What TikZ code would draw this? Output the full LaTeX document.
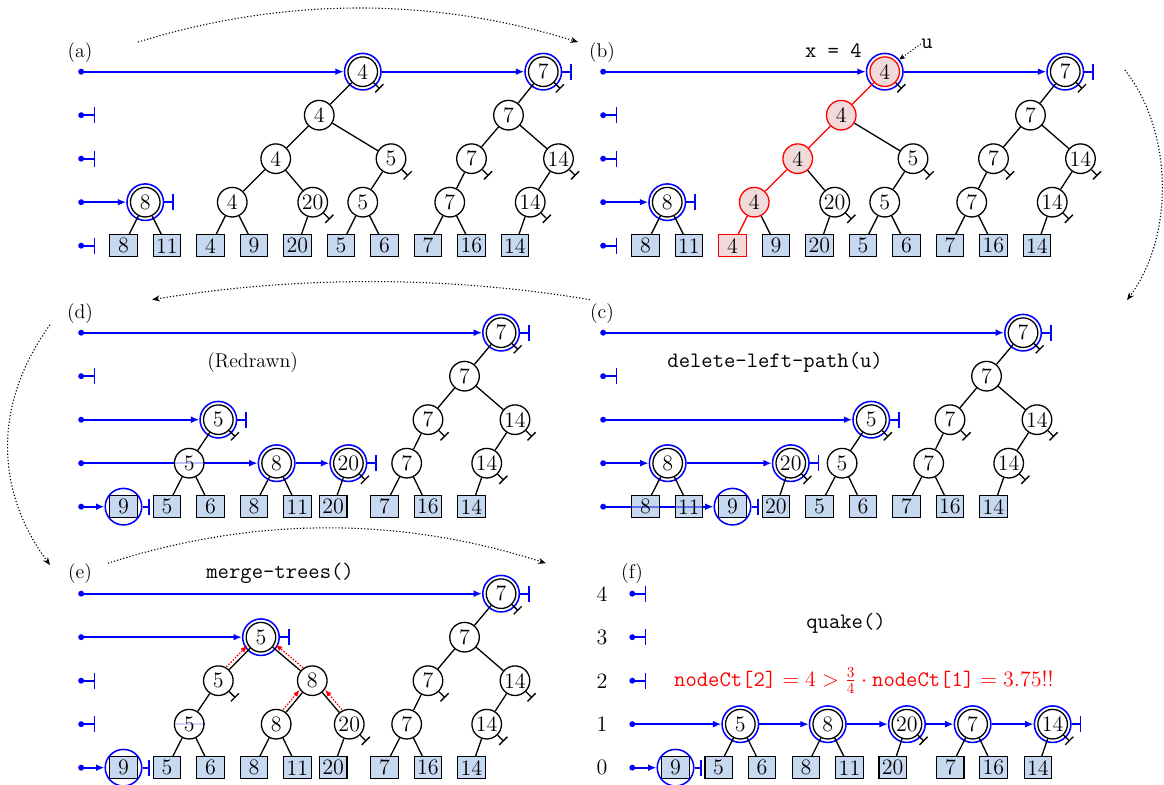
\documentclass[tikz,border=0pt]{standalone}
\usetikzlibrary{arrows.meta}
\definecolor{boxblue}{RGB}{160,192,232}
\definecolor{pinkred}{RGB}{242,218,218}
\pgfdeclarelayer{bg}
\pgfsetlayers{bg,main}
\tikzset{
 tn/.style={circle,draw,line width=0.85pt,fill=white,fill opacity=0.75,text opacity=1,minimum size=0.68cm,inner sep=0pt,font=\fontsize{14.4}{17}\selectfont},
 tnred/.style={tn,draw=red,fill=pinkred,fill opacity=1},
 lf/.style={rectangle,draw,line width=0.85pt,fill=boxblue,fill opacity=0.6,text opacity=1,minimum width=0.63cm,minimum height=0.5cm,inner sep=0pt,font=\fontsize{14.4}{17}\selectfont},
 lfred/.style={lf,draw=red,fill=pinkred,fill opacity=1},
 rg/.style={circle,draw=blue,line width=1pt,minimum size=0.84cm,inner sep=0pt},
 ed/.style={line width=0.85pt},
 edred/.style={line width=0.85pt,red},
 tee/.style={line width=0.85pt,-{Bar[width=7.5pt]}},
 lst/.style={blue,line width=1.1pt,-{Latex[length=5.5pt,width=4.5pt]}},
 lstdot/.style={blue,line width=1.1pt,{Circle[length=3.8pt]}-{Latex[length=5.5pt,width=4.5pt]}},
 nil/.style={blue,line width=1.1pt,{Circle[length=3.8pt]}-{Bar[width=10.5pt]}},
 endb/.style={blue,line width=1.1pt,-{Bar[width=10.5pt]}},
 plabel/.style={font=\fontsize{13}{15}\selectfont,inner sep=0pt},
 numlabel/.style={font=\fontsize{14.4}{17}\selectfont,inner sep=0pt},
 ttlabel/.style={font=\fontsize{14.4}{17}\selectfont\ttfamily,inner sep=0pt},
 arc/.style={line width=0.7pt,dash pattern=on 0.8pt off 1.3pt,-{Stealth[length=5pt,width=4pt]}},
 redup/.style={red,line width=0.8pt,dash pattern=on 1pt off 1pt,-{Latex[length=4.5pt,width=3.5pt]}},
}
\newcommand\treeAB[4]{%
 \foreach \vv/\xx in {8/1,11/2,9/4,20/5,5/6,6/7,7/8,16/9,14/10}{\node[lf] (#1l\vv) at (\xx,0) {\vv};}
 \node[#4] (#1l4) at (3,0) {4};
 \node[tn] (#1n8) at (1.5,1) {8};
 \node[#2] (#1a4) at (3.5,1) {4};
 \node[tn] (#1n20) at (5.35,1) {20};
 \node[tn] (#1a5) at (6.5,1) {5};
 \node[tn] (#1a7) at (8.5,1) {7};
 \node[tn] (#1a14) at (10.35,1) {14};
 \node[#2] (#1b4) at (4.5,2) {4};
 \node[tn] (#1b5) at (7.15,2) {5};
 \node[tn] (#1b7) at (9,2) {7};
 \node[tn] (#1b14) at (11,2) {14};
 \node[#2] (#1c4) at (5.5,3) {4};
 \node[tn] (#1c7) at (9.85,3) {7};
 \node[#2] (#1d4) at (6.5,4) {4};
 \node[tn] (#1d7) at (10.65,4) {7};
 \node[rg] (#1n8r) at (#1n8) {};
 \node[rg] (#1d4r) at (#1d4) {};
 \node[rg] (#1d7r) at (#1d7) {};
 \draw[ed] (#1n8) -- (#1l8) (#1n8) -- (#1l11) (#1a4) -- (#1l9) (#1n20) -- (#1l20)
   (#1a5) -- (#1l5) (#1a5) -- (#1l6) (#1a7) -- (#1l7) (#1a7) -- (#1l16) (#1a14) -- (#1l14)
   (#1b4) -- (#1n20) (#1b5) -- (#1a5) (#1b7) -- (#1a7) (#1b14) -- (#1a14)
   (#1c4) -- (#1b5) (#1c7) -- (#1b7) (#1c7) -- (#1b14) (#1d7) -- (#1c7);
 \draw[#3] (#1a4) -- (#1l4) (#1b4) -- (#1a4) (#1c4) -- (#1b4) (#1d4) -- (#1c4);
 \foreach \nn in {n20,a14,b5,b7,b14,d4,d7}{\draw[tee] (#1\nn.-45) -- ++(-45:0.2);}
 \foreach \rr in {0,2,3}{\coordinate (#1s\rr) at (-0.04,\rr); \coordinate (#1e\rr) at (0.35,\rr); \draw[nil] (#1s\rr) -- (#1e\rr);}
 \coordinate (#1s1) at (-0.04,1); \coordinate (#1s4) at (-0.04,4);
 \draw[lstdot] (#1s1) -- (#1n8r);
 \draw[endb] (#1n8r.east) -- ++(0.22,0);
 \draw[lstdot] (#1s4) -- (#1d4r);
 \draw[lst] (#1d4r) -- (#1d7r);
 \draw[endb] (#1d7r.east) -- ++(0.22,0);
}
\newcommand\rtree[1]{%
 \node[lf] (#1l7) at (7,0) {7};
 \node[lf] (#1l16) at (8,0) {16};
 \node[lf] (#1l14) at (9,0) {14};
 \node[tn] (#1a7) at (7.51,1) {7};
 \node[tn] (#1a14) at (9.35,1) {14};
 \node[tn] (#1b7) at (8,2) {7};
 \node[tn] (#1b14) at (10,2) {14};
 \node[tn] (#1c7) at (8.84,3) {7};
 \node[tn] (#1d7) at (9.68,4) {7};
 \node[rg] (#1d7r) at (#1d7) {};
 \draw[ed] (#1a7) -- (#1l7) (#1a7) -- (#1l16) (#1a14) -- (#1l14) (#1b7) -- (#1a7) (#1b14) -- (#1a14)
   (#1c7) -- (#1b7) (#1c7) -- (#1b14) (#1d7) -- (#1c7);
 \foreach \nn in {a14,b7,b14,d7}{\draw[tee] (#1\nn.-45) -- ++(-45:0.2);}
 \coordinate (#1s4) at (-0.04,4);
 \draw[lstdot] (#1s4) -- (#1d7r);
 \draw[endb] (#1d7r.east) -- ++(0.22,0);
}
\begin{document}
\begin{tikzpicture}
\useasboundingbox (-1.839,-12.398) rectangle (24.92,5.648);
\begin{pgfonlayer}{bg}
\fill[white] (-1.839,-12.398) rectangle (24.92,5.648);
\end{pgfonlayer}

% ---------------- (a)
\begin{scope}
 \treeAB{a}{tn}{ed}{lf}
 \node[plabel] (alab) at (0,4.44) {(a)};
\end{scope}

% ---------------- (b)
\begin{scope}[shift={(12,0)}]
 \treeAB{b}{tnred}{edred}{lfred}
 \node[plabel] (blab) at (0,4.44) {(b)};
 \node[ttlabel] (bx) at (5.32,4.48) {x = 4};
 \node[ttlabel] (bu) at (7.47,4.64) {u};
 \draw[line width=0.6pt,dash pattern=on 0.8pt off 1.2pt,-{Stealth[length=4pt,width=3.5pt]}] (bu.west) -- (bd4r.40);
\end{scope}

% ---------------- (c)
\begin{scope}[shift={(12,-6)}]
 \rtree{c}
 \node[lf] (cl8) at (1,0) {8};
 \node[lf] (cl11) at (2,0) {11};
 \node[lf] (cl9) at (3,0) {9};
 \node[lf] (cl20) at (4,0) {20};
 \node[lf] (cl5) at (5,0) {5};
 \node[lf] (cl6) at (6,0) {6};
 \node[rg] (cl9r) at (cl9) {};
 \node[tn] (cn8) at (1.51,1) {8};
 \node[rg] (cn8r) at (cn8) {};
 \node[tn] (cn20) at (4.34,1) {20};
 \node[rg] (cn20r) at (cn20) {};
 \node[tn] (ca5) at (5.52,1) {5};
 \node[tn] (cb5) at (6.19,2) {5};
 \node[rg] (cb5r) at (cb5) {};
 \draw[ed] (cn8) -- (cl8) (cn8) -- (cl11) (cn20) -- (cl20) (ca5) -- (cl5) (ca5) -- (cl6) (cb5) -- (ca5);
 \foreach \nn in {cn20,cb5}{\draw[tee] (\nn.-45) -- ++(-45:0.2);}
 \coordinate (cs3) at (-0.04,3); \coordinate (ce3) at (0.35,3);
 \draw[nil] (cs3) -- (ce3);
 \coordinate (cs2) at (-0.04,2);
 \draw[lstdot] (cs2) -- (cb5r);
 \draw[endb] (cb5r.east) -- ++(0.22,0);
 \coordinate (cs1) at (-0.04,1);
 \draw[lstdot] (cs1) -- (cn8r);
 \draw[lst] (cn8r) -- (cn20r);
 \draw[endb] (cn20r.east) -- ++(0.22,0);
 \coordinate (cs0) at (-0.04,0);
 \begin{pgfonlayer}{bg}
 \draw[lstdot] (cs0) -- (cl9r);
 \end{pgfonlayer}
 \draw[endb] (cl9r.east) -- ++(0.17,0);
 \node[plabel] (clab) at (0,4.43) {(c)};
 \node[ttlabel] (ctxt) at (3.98,3.32) {delete-left-path(u)};
\end{scope}

% ---------------- (d)
\begin{scope}[shift={(0,-6)}]
 \rtree{d}
 \node[lf] (dl9) at (1,0) {9};
 \node[lf] (dl5) at (2,0) {5};
 \node[lf] (dl6) at (3,0) {6};
 \node[lf] (dl8) at (4,0) {8};
 \node[lf] (dl11) at (5,0) {11};
 \node[lf] (dl20) at (5.82,0) {20};
 \node[rg] (dl9r) at (dl9) {};
 \node[tn] (da5) at (2.51,1) {5};
 \node[tn] (dn8) at (4.52,1) {8};
 \node[rg] (dn8r) at (dn8) {};
 \node[tn] (dn20) at (6.17,1) {20};
 \node[rg] (dn20r) at (dn20) {};
 \node[tn] (db5) at (3.18,2) {5};
 \node[rg] (db5r) at (db5) {};
 \draw[ed] (db5) -- (da5) (da5) -- (dl5) (da5) -- (dl6) (dn8) -- (dl8) (dn8) -- (dl11) (dn20) -- (dl20);
 \foreach \nn in {dn20,db5}{\draw[tee] (\nn.-45) -- ++(-45:0.2);}
 \coordinate (ds3) at (-0.04,3); \coordinate (de3) at (0.35,3);
 \draw[nil] (ds3) -- (de3);
 \coordinate (ds2) at (-0.04,2);
 \draw[lstdot] (ds2) -- (db5r);
 \draw[endb] (db5r.east) -- ++(0.22,0);
 \coordinate (ds1) at (-0.04,1);
 \begin{pgfonlayer}{bg}
 \draw[lstdot] (ds1) -- (dn8r);
 \end{pgfonlayer}
 \draw[lst] (dn8r) -- (dn20r);
 \draw[endb] (dn20r.east) -- ++(0.22,0);
 \coordinate (ds0) at (-0.04,0);
 \draw[lstdot] (ds0) -- (dl9r);
 \draw[endb] (dl9r.east) -- ++(0.17,0);
 \node[plabel] (dlab) at (0,4.44) {(d)};
 \node[plabel] (dtxt) at (3.97,3.32) {(Redrawn)};
\end{scope}

% ---------------- (e)
\begin{scope}[shift={(0,-12)}]
 \rtree{e}
 \node[lf] (el9) at (1,0) {9};
 \node[lf] (el5) at (2,0) {5};
 \node[lf] (el6) at (3,0) {6};
 \node[lf] (el8) at (4,0) {8};
 \node[lf] (el11) at (5,0) {11};
 \node[lf] (el20) at (5.82,0) {20};
 \node[rg] (el9r) at (el9) {};
 \node[tn] (ea5) at (2.51,1) {5};
 \node[tn] (ea8) at (4.51,1) {8};
 \node[tn] (ea20) at (6.19,1) {20};
 \node[tn] (eb5) at (3.18,2) {5};
 \node[tn] (eb8) at (5.34,2) {8};
 \node[tn] (ec5) at (4.16,3) {5};
 \node[rg] (ec5r) at (ec5) {};
 \draw[ed] (ec5) -- (eb5) (ec5) -- (eb8) (eb5) -- (ea5) (eb8) -- (ea8) (eb8) -- (ea20)
   (ea5) -- (el5) (ea5) -- (el6) (ea8) -- (el8) (ea8) -- (el11) (ea20) -- (el20);
 \foreach \nn in {ea20,eb5}{\draw[tee] (\nn.-45) -- ++(-45:0.2);}
 \begin{pgfonlayer}{bg}
 \draw[blue!70,line width=0.9pt] (ea5.west) -- (ea5.east);
 \end{pgfonlayer}
 \draw[redup,transform canvas={shift={(-1.8pt,1.8pt)}}] (eb5) -- (ec5);
 \draw[redup,transform canvas={shift={(1.8pt,1.8pt)}}] (eb8) -- (ec5);
 \draw[redup,transform canvas={shift={(-1.8pt,1.8pt)}}] (ea8) -- (eb8);
 \draw[redup,transform canvas={shift={(1.8pt,1.8pt)}}] (ea20) -- (eb8);
 \coordinate (es3) at (-0.04,3);
 \draw[lstdot] (es3) -- (ec5r);
 \draw[endb] (ec5r.east) -- ++(0.22,0);
 \foreach \rr in {1,2}{\coordinate (es\rr) at (-0.04,\rr); \coordinate (ee\rr) at (0.35,\rr); \draw[nil] (es\rr) -- (ee\rr);}
 \coordinate (es0) at (-0.04,0);
 \draw[lstdot] (es0) -- (el9r);
 \draw[endb] (el9r.east) -- ++(0.17,0);
 \node[plabel] (elab) at (0,4.46) {(e)};
 \node[ttlabel] (etxt) at (4.6,4.46) {merge-trees()};
\end{scope}

% ---------------- (f)
\begin{scope}[shift={(12,-12)}]
 \foreach \rr in {0,...,4}{\node[numlabel] (flev\rr) at (0,\rr) {\rr};}
 \foreach \vv/\xx in {5/2.68,6/3.68,8/4.69,11/5.69,20/6.68,7/8.01,16/9.0,14/10.02}{\node[lf] (fl\vv) at (\xx,0) {\vv};}
 \node[lf] (fl9) at (1.69,0) {9};
 \node[rg] (fl9r) at (fl9) {};
 \foreach \vv/\xx in {5/3.18,8/5.19,20/7.01,7/8.52,14/10.36}{\node[tn] (fn\vv) at (\xx,1) {\vv}; \node[rg] (fn\vv r) at (fn\vv) {};}
 \draw[ed] (fn5) -- (fl5) (fn5) -- (fl6) (fn8) -- (fl8) (fn8) -- (fl11) (fn20) -- (fl20)
   (fn7) -- (fl7) (fn7) -- (fl16) (fn14) -- (fl14);
 \foreach \nn in {fn20,fn14}{\draw[tee] (\nn.-45) -- ++(-45:0.2);}
 \foreach \rr in {2,3,4}{\coordinate (fs\rr) at (0.63,\rr); \coordinate (fe\rr) at (1.02,\rr); \draw[nil] (fs\rr) -- (fe\rr);}
 \coordinate (fs1) at (0.63,1);
 \draw[lstdot] (fs1) -- (fn5r);
 \draw[lst] (fn5r) -- (fn8r);
 \draw[lst] (fn8r) -- (fn20r);
 \draw[lst] (fn20r) -- (fn7r);
 \draw[lst] (fn7r) -- (fn14r);
 \draw[endb] (fn14r.east) -- ++(0.22,0);
 \coordinate (fs0) at (0.63,0);
 \draw[lstdot] (fs0) -- (fl9r);
 \draw[endb] (fl9r.east) -- ++(0.17,0);
 \node[plabel] (flab) at (0.69,4.46) {(f)};
 \node[ttlabel] (ftxt) at (5.61,3.31) {quake()};
 \node[text=red,inner sep=0pt,font=\fontsize{14.4}{17}\selectfont] (fform) at (6.02,2.0)
   {\texttt{nodeCt[2]}${}=4>\frac{3}{4}\cdot{}$\texttt{nodeCt[1]}${}=3.75$!!};
\end{scope}

% ---------------- connecting arcs
\coordinate (k1s) at (1.33,4.68); \coordinate (k1e) at (11.45,4.68);
\draw[arc] (k1s) .. controls (4.7,5.72) and (8.1,5.72) .. (k1e);
\coordinate (k2s) at (24.02,4.04); \coordinate (k2e) at (24.07,-1.25);
\draw[arc] (k2s) .. controls (25.15,2.6) and (25.15,0.2) .. (k2e);
\coordinate (k3s) at (11.72,-1.24); \coordinate (k3e) at (1.66,-1.24);
\draw[arc] (k3s) .. controls (8.4,-0.69) and (5.0,-0.69) .. (k3e);
\coordinate (k4s) at (-0.69,-1.82); \coordinate (k4e) at (-0.69,-7.34);
\draw[arc] (k4s) .. controls (-1.98,-3.6) and (-1.98,-5.6) .. (k4e);
\coordinate (k5s) at (0.64,-7.30); \coordinate (k5e) at (10.71,-7.30);
\draw[arc] (k5s) .. controls (4.0,-6.22) and (7.35,-6.22) .. (k5e);
\end{tikzpicture}
\end{document}
